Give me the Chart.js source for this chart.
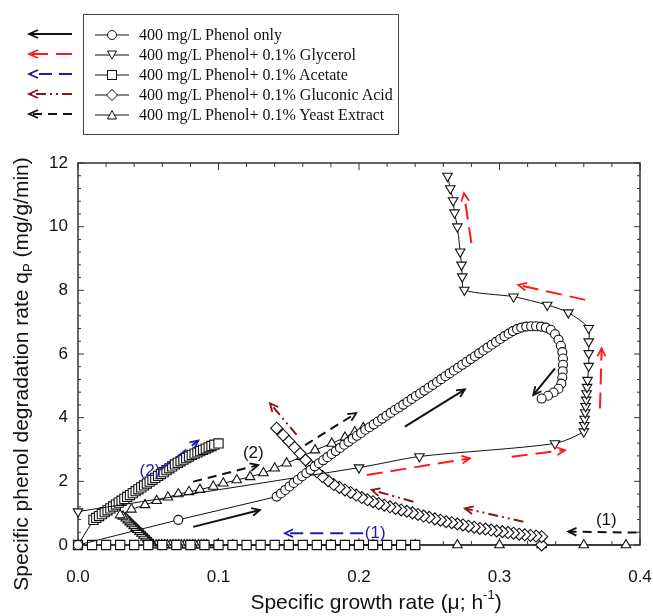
<!DOCTYPE html>
<html>
<head>
<meta charset="utf-8">
<script src="https://cdn.jsdelivr.net/npm/chart.js@4.4.1/dist/chart.umd.min.js"></script>
<style>
    html, body { margin: 0; padding: 0; background: #fff; }
    #wrap { position: relative; width: 653px; height: 616px; overflow: hidden; }
    #chart { position: absolute; left: 0; top: 0; }
    #arrowKey { position: absolute; left: 0; top: 0; }
    .legend {
        position: absolute; left: 83px; top: 14px; width: 316px; height: 121px;
        border: 1px solid #444; box-sizing: border-box;
    }
    .row {
        position: absolute; left: 11px; height: 20px; display: flex; align-items: center;
        font: 16px "Liberation Serif", "Times New Roman", serif; color: #111; white-space: nowrap;
    }
    .row svg { margin-right: 10px; }
</style>
</head>
<body>
<div id="wrap">
    <canvas id="chart" width="653" height="616"></canvas>
    <svg id="arrowKey" width="82" height="135"></svg>
    <div class="legend" id="legend"></div>
</div>
<script>
// --- data: [mu (1/h), qP (mg/g/min)] in time order ---
const phenolOnly = [
    [0, 0], [0.0714, 0.79], [0.1414, 1.52],
    [0.1445, 1.62], [0.1475, 1.73], [0.1505, 1.84], [0.1535, 1.95], [0.1565, 2.05],
    [0.1595, 2.16], [0.1625, 2.26], [0.1655, 2.36], [0.1685, 2.47], [0.1715, 2.57],
    [0.1745, 2.66], [0.1775, 2.76], [0.1805, 2.86], [0.1835, 2.95], [0.1865, 3.05],
    [0.1895, 3.15], [0.1925, 3.24], [0.1955, 3.34], [0.1985, 3.43], [0.2015, 3.52],
    [0.2045, 3.62], [0.2075, 3.70], [0.2105, 3.79], [0.2135, 3.88], [0.2165, 3.97],
    [0.2195, 4.06], [0.2225, 4.15], [0.2255, 4.24], [0.2285, 4.32], [0.2315, 4.41],
    [0.2345, 4.50], [0.2375, 4.59], [0.2405, 4.68], [0.2435, 4.76], [0.2465, 4.85],
    [0.2495, 4.94], [0.2525, 5.03], [0.2555, 5.12], [0.2585, 5.21], [0.2615, 5.30],
    [0.2645, 5.39], [0.2675, 5.48], [0.2705, 5.57], [0.2735, 5.66], [0.2765, 5.75],
    [0.2795, 5.84], [0.2825, 5.93], [0.2855, 6.02], [0.2885, 6.11], [0.2915, 6.20],
    [0.2945, 6.29], [0.2975, 6.38], [0.3005, 6.47], [0.3035, 6.56], [0.3065, 6.64],
    [0.3095, 6.72], [0.3125, 6.78], [0.3155, 6.83], [0.3190, 6.86], [0.3225, 6.87],
    [0.3260, 6.87], [0.3295, 6.86], [0.3330, 6.83], [0.3365, 6.76], [0.3395, 6.62],
    [0.3420, 6.45], [0.3437, 6.26], [0.3447, 6.06], [0.3452, 5.86], [0.3452, 5.66],
    [0.3450, 5.46], [0.3447, 5.26], [0.3440, 5.07], [0.3420, 4.91], [0.3385, 4.79],
    [0.3345, 4.69], [0.3300, 4.60],
];

const glycerol = [
    [0, 1.05], [0.200, 2.43], [0.243, 2.78], [0.3395, 3.19], [0.3600, 3.56],
    [0.3603, 3.76], [0.3606, 3.96], [0.3610, 4.16], [0.3613, 4.36], [0.3617, 4.56],
    [0.3620, 4.76], [0.3623, 4.96], [0.3627, 5.18], [0.3635, 5.62], [0.3635, 6.02],
    [0.3635, 6.39], [0.3635, 6.81], [0.349, 7.30], [0.334, 7.54], [0.310, 7.80],
    [0.275, 8.01], [0.2735, 8.43], [0.273, 8.80], [0.272, 9.21], [0.270, 10.00],
    [0.268, 10.44], [0.267, 10.82], [0.265, 11.20], [0.263, 11.59],
];

const acetate = [
    [0.24, 0], [0.23, 0], [0.22, 0], [0.21, 0], [0.20, 0], [0.19, 0], [0.18, 0],
    [0.17, 0], [0.16, 0], [0.15, 0], [0.14, 0], [0.13, 0], [0.12, 0], [0.11, 0],
    [0.10, 0], [0.09, 0], [0.08, 0], [0.07, 0], [0.06, 0], [0.05, 0], [0.04, 0],
    [0.03, 0], [0.02, 0], [0.01, 0], [0, 0],
    [0.011, 0.79], [0.013, 0.85], [0.015, 0.91], [0.017, 0.97], [0.019, 1.03],
    [0.021, 1.09], [0.023, 1.15], [0.025, 1.21], [0.027, 1.27], [0.029, 1.33],
    [0.031, 1.39], [0.033, 1.45], [0.035, 1.51], [0.037, 1.57], [0.039, 1.63],
    [0.041, 1.69], [0.043, 1.75], [0.045, 1.81], [0.047, 1.87], [0.049, 1.93],
    [0.051, 1.99], [0.053, 2.05], [0.055, 2.11], [0.057, 2.17], [0.059, 2.23],
    [0.061, 2.29], [0.063, 2.35], [0.065, 2.41], [0.067, 2.47], [0.069, 2.53],
    [0.071, 2.58], [0.073, 2.63], [0.075, 2.68], [0.077, 2.73], [0.079, 2.78],
    [0.081, 2.83], [0.083, 2.87], [0.085, 2.91], [0.087, 2.95], [0.089, 2.99],
    [0.091, 3.03], [0.093, 3.07], [0.095, 3.11], [0.097, 3.15], [0.100, 3.19],
];

const gluconicAcid = [
    [0.330, 0.00], [0.330, 0.26], [0.326, 0.28], [0.322, 0.30], [0.318, 0.32],
    [0.314, 0.34], [0.310, 0.37], [0.306, 0.39], [0.302, 0.42], [0.298, 0.44],
    [0.294, 0.47], [0.290, 0.50], [0.286, 0.52], [0.282, 0.56], [0.278, 0.59],
    [0.274, 0.63], [0.270, 0.66], [0.266, 0.70], [0.262, 0.73], [0.258, 0.78],
    [0.254, 0.82], [0.250, 0.87], [0.246, 0.91], [0.242, 0.96], [0.238, 1.01],
    [0.234, 1.06], [0.230, 1.10], [0.226, 1.15], [0.222, 1.20], [0.218, 1.25],
    [0.214, 1.30], [0.210, 1.36], [0.206, 1.42], [0.202, 1.49], [0.198, 1.57],
    [0.194, 1.65], [0.190, 1.73], [0.186, 1.81], [0.182, 1.90], [0.178, 2.02],
    [0.174, 2.15], [0.170, 2.30], [0.166, 2.48], [0.162, 2.67], [0.158, 2.88],
    [0.154, 3.07], [0.150, 3.26], [0.146, 3.45], [0.1414, 3.67],
];

const yeastExtract = [
    [0.39, 0], [0.36, 0], [0.33, 0], [0.30, 0], [0.27, 0], [0.24, 0], [0.21, 0],
    [0.18, 0], [0.15, 0], [0.11, 0], [0.099, 0],
    [0.0916, 0], [0.0896, 0], [0.0876, 0], [0.0856, 0], [0.0836, 0], [0.0816, 0],
    [0.0796, 0], [0.0776, 0], [0.0756, 0], [0.0736, 0], [0.0716, 0], [0.0696, 0],
    [0.0676, 0], [0.0656, 0], [0.0636, 0], [0.0616, 0], [0.0596, 0], [0.0576, 0],
    [0.0556, 0], [0.0536, 0],
    [0.0522, 0.06], [0.0508, 0.12], [0.0494, 0.18], [0.0480, 0.24], [0.0466, 0.30],
    [0.0452, 0.36], [0.0438, 0.42], [0.0424, 0.48], [0.0410, 0.54], [0.0396, 0.60],
    [0.0382, 0.66], [0.0368, 0.72], [0.0354, 0.78], [0.0340, 0.84], [0.0320, 0.90],
    [0.030, 0.94], [0.038, 1.12], [0.0477, 1.26], [0.056, 1.39], [0.064, 1.50],
    [0.0714, 1.60], [0.079, 1.67], [0.0868, 1.74], [0.0963, 1.84], [0.1034, 1.94],
    [0.113, 2.04], [0.1225, 2.14], [0.132, 2.26], [0.140, 2.41], [0.1485, 2.57],
    [0.159, 2.77], [0.1687, 2.98], [0.1806, 3.19], [0.190, 3.38], [0.197, 3.55],
    [0.203, 3.68],
];

const seriesNames = [
    '400 mg/L Phenol only',
    '400 mg/L Phenol+ 0.1% Glycerol',
    '400 mg/L Phenol+ 0.1% Acetate',
    '400 mg/L Phenol+ 0.1% Gluconic Acid',
    '400 mg/L Phenol+ 0.1% Yeast Extract',
];

const xTickLabels = [0, 0.1, 0.2, 0.3, 0.4];
const yTickLabels = [0, 2, 4, 6, 8, 10, 12];

// direction arrows: [fromX, fromY, toX, toY], style key
const arrows = [
    { from: [0.082, 0.57], to: [0.1295, 1.10], style: 'phenol' },
    { from: [0.2327, 3.72], to: [0.2754, 4.89], style: 'phenol' },
    { from: [0.3395, 5.55], to: [0.324, 4.71], style: 'phenol' },
    { from: [0.2055, 2.20], to: [0.279, 2.72], style: 'glycerol' },
    { from: [0.3087, 2.77], to: [0.3466, 2.98], style: 'glycerol' },
    { from: [0.3715, 4.29], to: [0.3727, 6.18], style: 'glycerol' },
    { from: [0.361, 7.70], to: [0.3134, 8.17], style: 'glycerol' },
    { from: [0.280, 9.48], to: [0.2747, 11.05], style: 'glycerol' },
    { from: [0.203, 0.37], to: [0.1473, 0.37], style: 'acetate' },
    { from: [0.0584, 2.36], to: [0.0856, 3.28], style: 'acetate' },
    { from: [0.1556, 3.46], to: [0.1367, 4.45], style: 'gluconic' },
    { from: [0.2387, 1.36], to: [0.209, 1.73], style: 'gluconic' },
    { from: [0.317, 0.73], to: [0.2754, 1.15], style: 'gluconic' },
    { from: [0.3976, 0.39], to: [0.349, 0.42], style: 'yeast' },
    { from: [0.082, 1.99], to: [0.1283, 2.51], style: 'yeast' },
    { from: [0.1616, 3.14], to: [0.198, 4.14], style: 'yeast' },
];

const phaseLabels = [
    { text: '(1)', at: [0.2115, 0.38], style: 'acetate' },
    { text: '(2)', at: [0.0512, 2.31], style: 'acetate' },
    { text: '(1)', at: [0.376, 0.79], style: 'yeast' },
    { text: '(2)', at: [0.1248, 2.88], style: 'yeast' },
];

const arrowStyles = {
    phenol: { color: '#111', dash: [] },
    glycerol: { color: '#ff1a1a', dash: [16, 8] },
    acetate: { color: '#1c1ca8', dash: [13, 7] },
    gluconic: { color: '#8b1414', dash: [10, 4, 2, 4, 2, 4] },
    yeast: { color: '#111', dash: [9, 6] },
};
const arrowKeyOrder = ['phenol', 'glycerol', 'acetate', 'gluconic', 'yeast'];

const markers = [
    { style: 'circle', radius: 4.5, rotation: 0 },
    { style: 'triangle', radius: 5.5, rotation: 180 },
    { style: 'rect', radius: 6.5, rotation: 0 },
    { style: 'rectRot', radius: 6, rotation: 0 },
    { style: 'triangle', radius: 5.5, rotation: 0 },
];

const toPoints = (arr) => arr.map(([x, y]) => ({ x, y }));

function drawArrow(ctx, x1, y1, x2, y2, color, dash) {
    const ang = Math.atan2(y2 - y1, x2 - x1);
    const head = 9;
    ctx.save();
    ctx.strokeStyle = color;
    ctx.lineWidth = 2;
    ctx.setLineDash(dash);
    ctx.beginPath();
    ctx.moveTo(x1, y1);
    ctx.lineTo(x2, y2);
    ctx.stroke();
    ctx.setLineDash([]);
    ctx.lineWidth = 1.8;
    ctx.beginPath();
    ctx.moveTo(x2 - head * Math.cos(ang - 0.45), y2 - head * Math.sin(ang - 0.45));
    ctx.lineTo(x2, y2);
    ctx.lineTo(x2 - head * Math.cos(ang + 0.45), y2 - head * Math.sin(ang + 0.45));
    ctx.stroke();
    ctx.restore();
}

const framePlugin = {
    id: 'frame',
    beforeDatasetsDraw(chart) {
        const { ctx, chartArea: a, scales: { x, y } } = chart;
        ctx.save();
        ctx.strokeStyle = '#333';
        ctx.lineWidth = 1;
        for (let i = 0; i <= 20; i++) {
            const px = x.getPixelForValue(i * 0.02);
            const len = i % 5 === 0 ? 7 : 4;
            ctx.beginPath();
            ctx.moveTo(px, a.bottom); ctx.lineTo(px, a.bottom - len);
            ctx.moveTo(px, a.top); ctx.lineTo(px, a.top + len);
            ctx.stroke();
        }
        for (let i = 0; i <= 30; i++) {
            const py = y.getPixelForValue(i * 0.4);
            const len = i % 5 === 0 ? 6 : 3;
            ctx.beginPath();
            ctx.moveTo(a.left, py); ctx.lineTo(a.left + len, py);
            ctx.moveTo(a.right, py); ctx.lineTo(a.right - len, py);
            ctx.stroke();
        }
        ctx.lineWidth = 1.5;
        ctx.strokeRect(a.left, a.top, a.right - a.left, a.bottom - a.top);
        ctx.restore();
    },
    afterDatasetsDraw(chart) {
        const { ctx, scales: { x, y } } = chart;
        arrows.forEach((a) => {
            const s = arrowStyles[a.style];
            drawArrow(ctx,
                x.getPixelForValue(a.from[0]), y.getPixelForValue(a.from[1]),
                x.getPixelForValue(a.to[0]), y.getPixelForValue(a.to[1]),
                s.color, s.dash);
        });
        ctx.save();
        ctx.font = '17px "Liberation Sans", Arial, sans-serif';
        ctx.textAlign = 'center';
        ctx.textBaseline = 'middle';
        phaseLabels.forEach((l) => {
            ctx.fillStyle = arrowStyles[l.style].color;
            ctx.fillText(l.text, x.getPixelForValue(l.at[0]), y.getPixelForValue(l.at[1]));
        });
        ctx.restore();
    },
    afterDraw(chart) {
        const { ctx } = chart;
        const big = '21px "Liberation Sans", Arial, sans-serif';
        const small = '13px "Liberation Sans", Arial, sans-serif';
        ctx.save();
        ctx.fillStyle = '#111';
        ctx.textBaseline = 'middle';

        // x title with superscript
        const xParts = [['Specific growth rate (\u03bc; h', big, 0], ['-1', small, -8], [')', big, 0]];
        let w = 0;
        xParts.forEach(([t, f]) => { ctx.font = f; w += ctx.measureText(t).width; });
        let cx = 376 - w / 2;
        xParts.forEach(([t, f, dy]) => {
            ctx.font = f;
            ctx.fillText(t, cx, 603 + dy);
            cx += ctx.measureText(t).width;
        });

        // y title with subscript
        const yParts = [['Specific phenol degradation rate q', big, 0], ['P', small, 6], [' (mg/g/min)', big, 0]];
        w = 0;
        yParts.forEach(([t, f]) => { ctx.font = f; w += ctx.measureText(t).width; });
        ctx.translate(22, 374);
        ctx.rotate(-Math.PI / 2);
        cx = -w / 2;
        yParts.forEach(([t, f, dy]) => {
            ctx.font = f;
            ctx.fillText(t, cx, dy);
            cx += ctx.measureText(t).width;
        });
        ctx.restore();
    },
};

const seriesData = [phenolOnly, glycerol, acetate, gluconicAcid, yeastExtract];

new Chart(document.getElementById('chart'), {
    type: 'scatter',
    data: {
        datasets: seriesData.map((d, i) => ({
            label: seriesNames[i],
            data: toPoints(d),
            showLine: true,
            borderColor: '#111',
            borderWidth: 1,
            tension: i === 1 ? 0.25 : 0,
            pointStyle: markers[i].style,
            pointRadius: markers[i].radius,
            pointRotation: markers[i].rotation,
            pointBackgroundColor: '#fff',
            pointBorderColor: '#111',
            pointBorderWidth: 1.1,
            clip: false,
        })),
    },
    options: {
        responsive: false,
        devicePixelRatio: 1,
        animation: false,
        layout: { padding: { left: 0, right: 13, top: 163, bottom: 0 } },
        plugins: { legend: { display: false }, tooltip: { enabled: false } },
        scales: {
            x: {
                type: 'linear',
                min: 0,
                max: 0.4,
                afterFit: (s) => { s.height = 71; s.paddingLeft = 0; s.paddingRight = 0; },
                afterBuildTicks: (s) => { s.ticks = xTickLabels.map((v) => ({ value: v })); },
                grid: { display: false, drawTicks: false },
                border: { display: false },
                ticks: {
                    padding: 22,
                    color: '#111',
                    font: { size: 17, family: '"Liberation Sans", Arial, sans-serif' },
                    callback: (v) => v.toFixed(1),
                },
            },
            y: {
                type: 'linear',
                min: 0,
                max: 12,
                afterFit: (s) => { s.width = 78; s.paddingTop = 0; s.paddingBottom = 0; },
                afterBuildTicks: (s) => { s.ticks = yTickLabels.map((v) => ({ value: v })); },
                grid: { display: false, drawTicks: false },
                border: { display: false },
                ticks: {
                    padding: 10,
                    color: '#111',
                    font: { size: 17, family: '"Liberation Sans", Arial, sans-serif' },
                },
            },
        },
    },
    plugins: [framePlugin],
});

// --- legend box (HTML) ---
const markerSvg = {
    circle: '<circle cx="17" cy="8" r="4.5" fill="#fff" stroke="#111"/>',
    triangleDown: '<polygon points="12.5,4 21.5,4 17,12" fill="#fff" stroke="#111"/>',
    rect: '<rect x="12.5" y="3.5" width="9" height="9" fill="#fff" stroke="#111"/>',
    diamond: '<polygon points="17,2.5 22.5,8 17,13.5 11.5,8" fill="#fff" stroke="#111"/>',
    triangleUp: '<polygon points="17,3.5 21.5,12 12.5,12" fill="#fff" stroke="#111"/>',
};
const legendMarkers = ['circle', 'triangleDown', 'rect', 'diamond', 'triangleUp'];
const legendRows = [34, 54, 74, 94, 114];
const legendEl = document.getElementById('legend');
seriesNames.forEach((name, i) => {
    const row = document.createElement('div');
    row.className = 'row';
    row.style.top = (legendRows[i] - 14 - 10) + 'px';
    row.innerHTML = '<svg width="34" height="16"><line x1="0" y1="8" x2="34" y2="8" stroke="#111" stroke-width="1"/>'
        + markerSvg[legendMarkers[i]] + '</svg><span>' + name + '</span>';
    legendEl.appendChild(row);
});

// arrow key left of legend
const key = document.getElementById('arrowKey');
let keyHtml = '';
arrowKeyOrder.forEach((k, i) => {
    const s = arrowStyles[k];
    const yy = legendRows[i];
    keyHtml += '<line x1="72" y1="' + yy + '" x2="30" y2="' + yy + '" stroke="' + s.color
        + '" stroke-width="2" stroke-dasharray="' + (s.dash.length ? s.dash.join(',') : 'none') + '"/>';
    keyHtml += '<polyline points="38,' + (yy - 4) + ' 29,' + yy + ' 38,' + (yy + 4) + '" fill="none" stroke="'
        + s.color + '" stroke-width="1.8"/>';
});
key.innerHTML = keyHtml;
</script>
</body>
</html>
